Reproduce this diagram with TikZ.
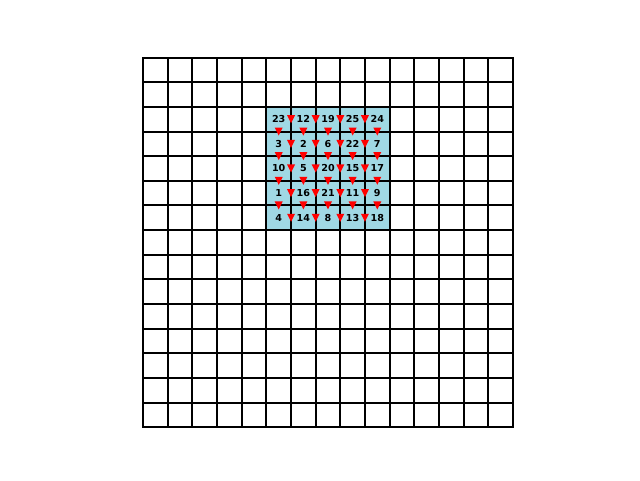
\documentclass[tikz,border=0pt]{standalone}
\usepackage{fontspec}
\setmainfont{DejaVu Sans}
\definecolor{hlblue}{HTML}{A0D8E4}
\begin{document}
\begin{tikzpicture}[x=0.75pt,y=-0.75pt,
  gridline/.style={line width=1.5pt,black,line cap=rect},
  numlabel/.style={font=\bfseries\fontsize{7.2}{8}\selectfont, inner sep=0pt, text=black},
  hl/.style={fill=hlblue},
  marker/.style={fill=red}]
\useasboundingbox (0,0) rectangle (640,480);
\def\xo{143.2}\def\yo{57.6}\def\cs{24.64}
\fill[hl] ({\xo+5*\cs},{\yo+2*\cs}) rectangle ({\xo+10*\cs},{\yo+7*\cs});
\foreach \k in {0,...,15} {
  \draw[gridline] ({\xo+\k*\cs},\yo) -- ({\xo+\k*\cs},{\yo+15*\cs});
  \draw[gridline] (\xo,{\yo+\k*\cs}) -- ({\xo+15*\cs},{\yo+\k*\cs});
}
\foreach \r in {2,...,6} \foreach \c in {6,...,9}
  \fill[marker] ({\xo+\c*\cs},{\yo+(\r+0.5)*\cs}) +(-4,-4) -- +(4,-4) -- +(0,4) -- cycle;
\foreach \r in {3,...,6} \foreach \c in {5,...,9}
  \fill[marker] ({\xo+(\c+0.5)*\cs},{\yo+\r*\cs}) +(-4,-4) -- +(4,-4) -- +(0,4) -- cycle;
\foreach \row [count=\r from 2] in {{23,12,19,25,24},{3,2,6,22,7},{10,5,20,15,17},{1,16,21,11,9},{4,14,8,13,18}} {
  \foreach \v [count=\c from 5] in \row {
    \node[numlabel] (n\v) at ({\xo+(\c+0.5)*\cs},{\yo+(\r+0.5)*\cs}) {\v};
  }
}
\end{tikzpicture}
\end{document}
